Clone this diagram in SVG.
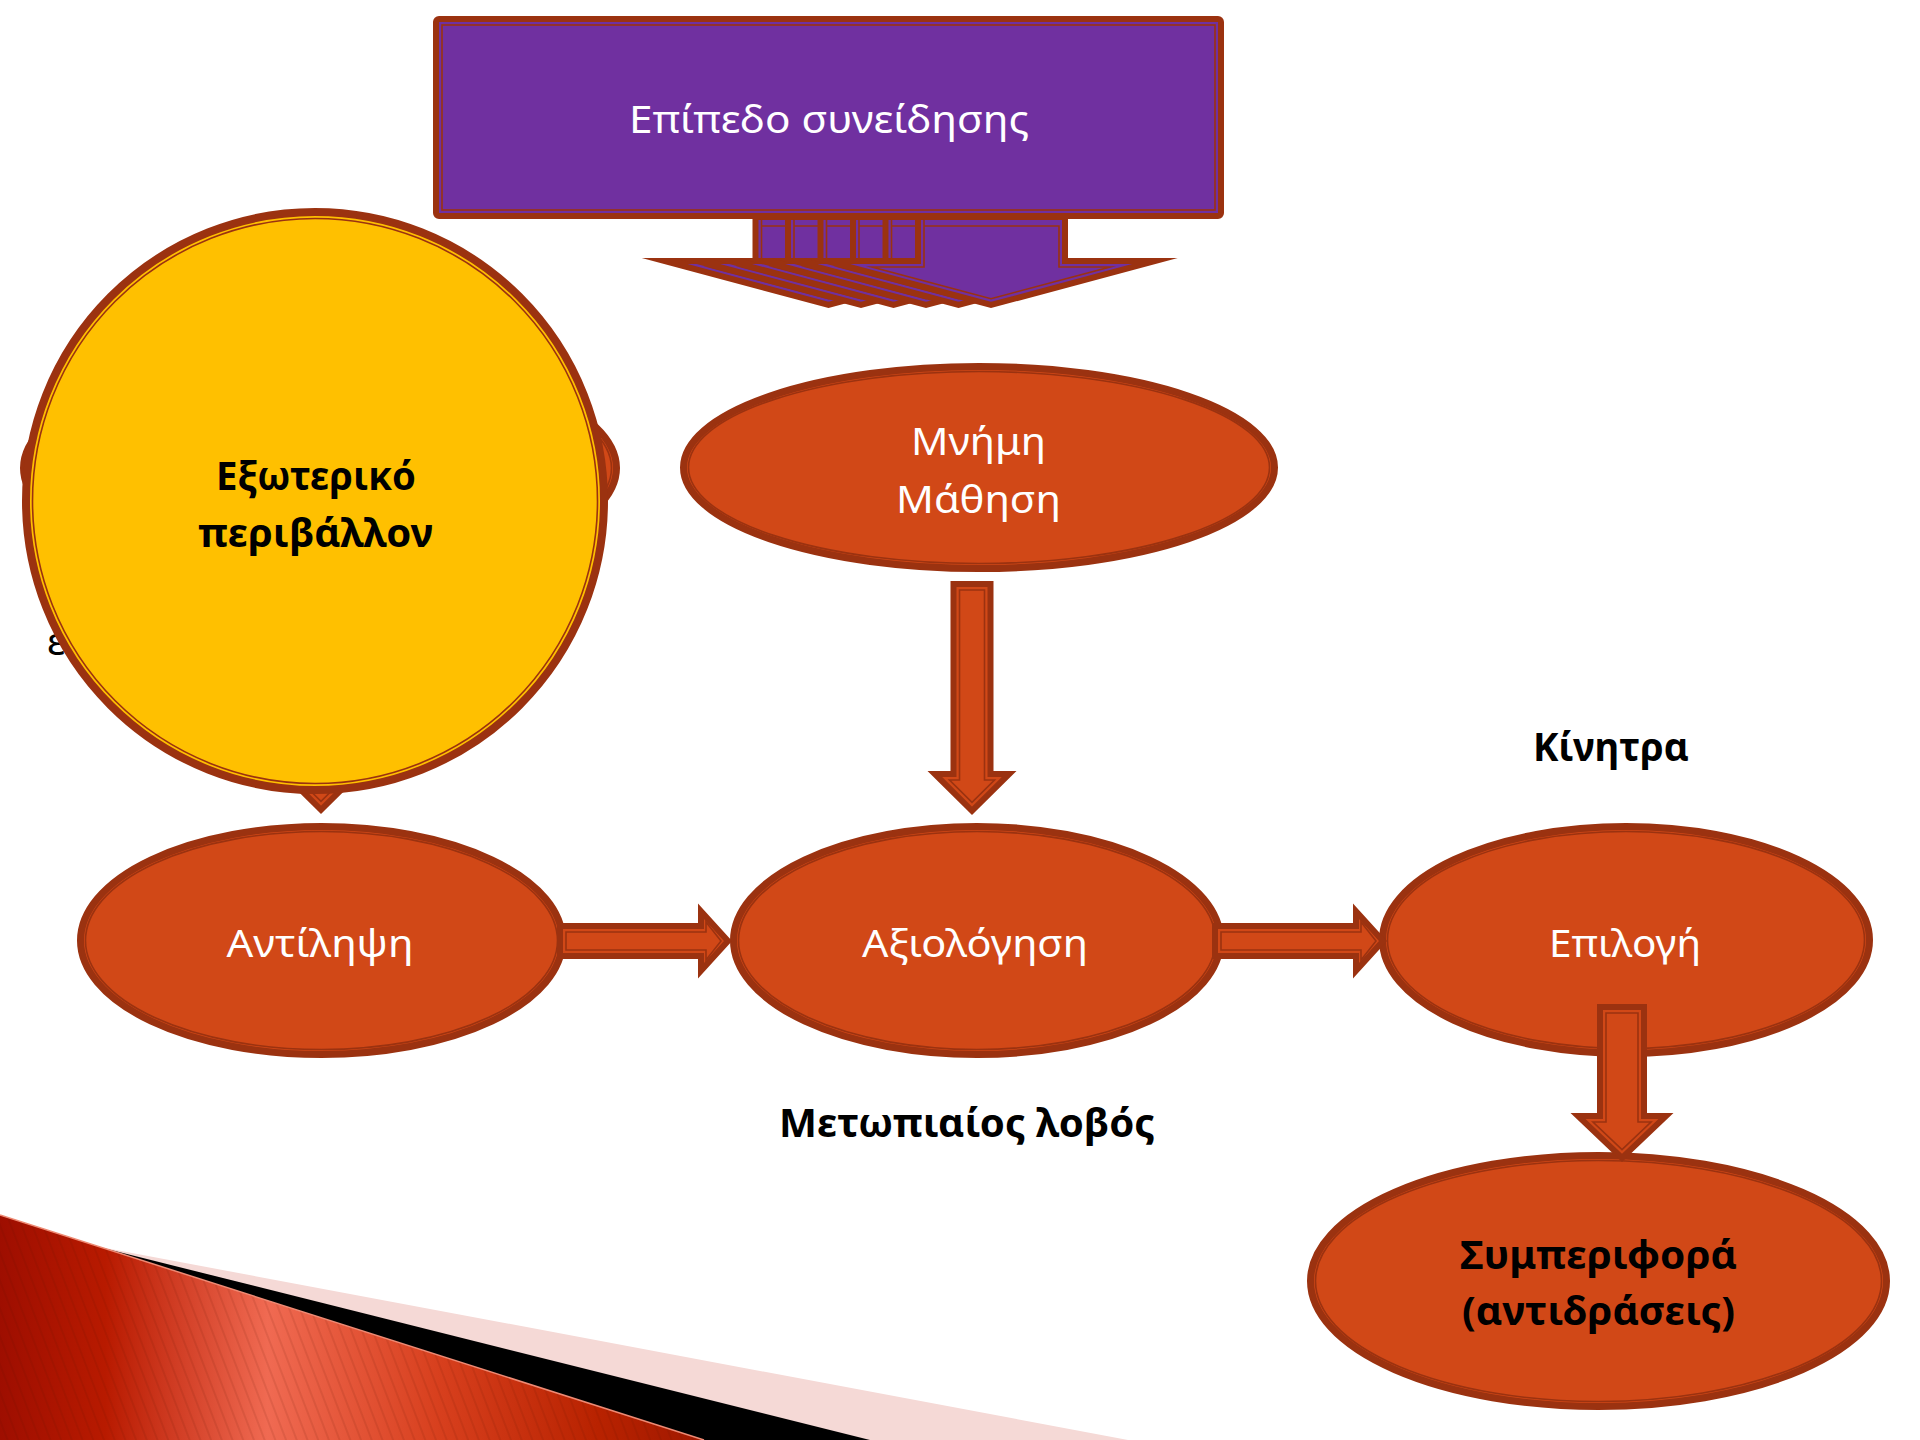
<svg xmlns="http://www.w3.org/2000/svg" xmlns:xlink="http://www.w3.org/1999/xlink" width="1920" height="1440" viewBox="0 0 1920 1440">
<style>
.nd{fill:#D14817;stroke:#9B3210;stroke-width:7}
.in{fill:none;stroke:#9B3210;stroke-width:1.6}
.ar{fill:#D14817;stroke:#9B3210;stroke-width:6;stroke-linejoin:miter;stroke-miterlimit:20}
.pa{fill:#7030A0;stroke:#9B3210;stroke-width:6;stroke-linejoin:miter;stroke-miterlimit:20}
.pi{fill:none;stroke:#9B3210;stroke-width:1.6;stroke-miterlimit:20}
.wt{font-family:"Noto Sans","Open Sans","DejaVu Sans",sans-serif;font-size:39px;fill:#FFFFFF;text-anchor:middle}
.bt{font-family:"Noto Sans","Open Sans","DejaVu Sans",sans-serif;font-size:40px;font-weight:bold;fill:#000000;text-anchor:middle}
.rt{font-family:"Noto Sans","Open Sans","DejaVu Sans",sans-serif;font-size:39px;fill:#000000}
</style>
<defs>
<linearGradient id="redg" gradientUnits="userSpaceOnUse" x1="0" y1="0" x2="704" y2="0">
<stop offset="0" stop-color="#9E0E00"/>
<stop offset="0.15" stop-color="#B81A00"/>
<stop offset="0.38" stop-color="#F06A52"/>
<stop offset="0.62" stop-color="#D8401E"/>
<stop offset="0.85" stop-color="#B82200"/>
<stop offset="1" stop-color="#A01800"/>
</linearGradient>
<pattern id="hatch" patternUnits="userSpaceOnUse" width="10" height="10" patternTransform="rotate(-21)">
<line x1="1" y1="0" x2="1" y2="10" stroke="#5A0A00" stroke-width="1.2" stroke-opacity="0.18"/>
</pattern>
<g id="parrow">
<polygon class="pa" points="918,217 1065,217 1065,261 1155,261 991,305 827,261 918,261"/>
<polyline class="pi" points="924,219 924,226 1059,226 1059,267 1110,267 991,298.7 872,267 924,267 924,226"/>
</g>
<g id="darrowA">
<polygon class="ar" points="-18.5,3 18.5,3 18.5,193 37.2,193 0,229.8 -37.2,193 -18.5,193"/>
<polygon class="in" points="-12.5,9 12.5,9 12.5,199 22.5,199 0,221.3 -22.5,199 -12.5,199"/>
</g>
<g id="darrowB">
<polygon class="ar" points="-22,3 22,3 22,112 44,112 0,153.9 -44,112 -22,112"/>
<polygon class="in" points="-16,9 16,9 16,118 29,118 0,145.6 -29,118 -16,118"/>
</g>
<g id="rarrow">
<polygon class="ar" points="3,-15 144,-15 144,-29.8 171,0 144,29.8 144,15 3,15"/>
<polygon class="in" points="9,-9 149,-9 149,-19 164,0 149,19 149,9 9,9"/>
</g>
</defs>
<rect x="0" y="0" width="1920" height="1440" fill="#FFFFFF"/>

<g id="decoration">
<polygon points="100,1247 1128,1440 0,1440" fill="#F5D9D6"/>
<polygon points="95,1246 870,1440 0,1440" fill="#000000"/>
<polygon points="0,1215 704,1440 0,1440" fill="url(#redg)"/>
<polygon points="0,1215 704,1440 0,1440" fill="url(#hatch)"/>
<line x1="0" y1="1215" x2="704" y2="1440" stroke="#EE8A74" stroke-width="1.5"/>
</g>

<g id="node-hidden">
<ellipse class="nd" cx="320" cy="468" rx="296.5" ry="111.5"/>
<ellipse class="in" cx="320" cy="468" rx="291.5" ry="106.5"/>
</g>
<text class="rt" x="47" y="655">ε</text>

<g id="node-mnimi">
<ellipse class="nd" cx="979" cy="467.5" rx="295.5" ry="101"/>
<ellipse class="in" cx="979" cy="467.5" rx="290.5" ry="96"/>
<text class="wt" x="978.5" y="455" textLength="135" lengthAdjust="spacingAndGlyphs">Μνήμη</text>
<text class="wt" x="978.5" y="513" textLength="165" lengthAdjust="spacingAndGlyphs">Μάθηση</text>
</g>

<g id="node-antilipsi">
<ellipse class="nd" cx="321.5" cy="940.5" rx="241" ry="114"/>
<ellipse class="in" cx="321.5" cy="940.5" rx="236" ry="109"/>
<text class="wt" x="320" y="957" textLength="187" lengthAdjust="spacingAndGlyphs">Αντίληψη</text>
</g>

<g id="node-axiologisi">
<ellipse class="nd" cx="977" cy="940.5" rx="243.5" ry="114"/>
<ellipse class="in" cx="977" cy="940.5" rx="238.5" ry="109"/>
<text class="wt" x="975" y="957" textLength="226" lengthAdjust="spacingAndGlyphs">Αξιολόγηση</text>
</g>

<g id="node-epilogi">
<ellipse class="nd" cx="1626" cy="940" rx="243.5" ry="113.5"/>
<ellipse class="in" cx="1626" cy="940" rx="238.5" ry="108.5"/>
<text class="wt" x="1625" y="957" textLength="152" lengthAdjust="spacingAndGlyphs">Επιλογή</text>
</g>

<g id="node-symperifora">
<ellipse class="nd" cx="1598.5" cy="1281" rx="288" ry="125.5"/>
<ellipse class="in" cx="1598.5" cy="1281" rx="283" ry="120.5"/>
<text class="bt" x="1598.5" y="1269" textLength="277" lengthAdjust="spacingAndGlyphs">Συμπεριφορά</text>
<text class="bt" x="1598.5" y="1325" textLength="273" lengthAdjust="spacingAndGlyphs">(αντιδράσεις)</text>
</g>

<g id="connectors">
<use xlink:href="#parrow" transform="translate(-162.5,0)"/>
<use xlink:href="#parrow" transform="translate(-130,0)"/>
<use xlink:href="#parrow" transform="translate(-97.5,0)"/>
<use xlink:href="#parrow" transform="translate(-65,0)"/>
<use xlink:href="#parrow" transform="translate(-32.5,0)"/>
<use xlink:href="#parrow"/>
<use xlink:href="#darrowA" transform="translate(321,580)"/>
<use xlink:href="#darrowA" transform="translate(972,581)"/>
<use xlink:href="#rarrow" transform="translate(557,941)"/>
<use xlink:href="#rarrow" transform="translate(1212,941)"/>
<use xlink:href="#darrowB" transform="translate(1622,1004)"/>
</g>

<g id="node-exoteriko">
<circle cx="315" cy="501" r="289" fill="#FFC000" stroke="#9B3210" stroke-width="8"/>
<circle cx="315" cy="501" r="282.5" fill="none" stroke="#9B3210" stroke-width="1.6"/>
<text class="bt" x="316" y="490" textLength="200" lengthAdjust="spacingAndGlyphs">Εξωτερικό</text>
<text class="bt" x="315.5" y="547" textLength="235" lengthAdjust="spacingAndGlyphs">περιβάλλον</text>
</g>

<g id="node-epipedo">
<rect x="436" y="19" width="785" height="197" rx="3" fill="#7030A0" stroke="#9B3210" stroke-width="6"/>
<rect x="442" y="25" width="773" height="185" fill="none" stroke="#9B3210" stroke-width="1.6"/>
<text class="wt" x="829" y="133" textLength="400" lengthAdjust="spacingAndGlyphs">Επίπεδο συνείδησης</text>
</g>

<g id="label-kinitra">
<text class="bt" x="1611" y="761" textLength="156" lengthAdjust="spacingAndGlyphs">Κίνητρα</text>
</g>
<g id="label-metopiaios">
<text class="bt" x="967" y="1137" textLength="376" lengthAdjust="spacingAndGlyphs">Μετωπιαίος λοβός</text>
</g>
</svg>
